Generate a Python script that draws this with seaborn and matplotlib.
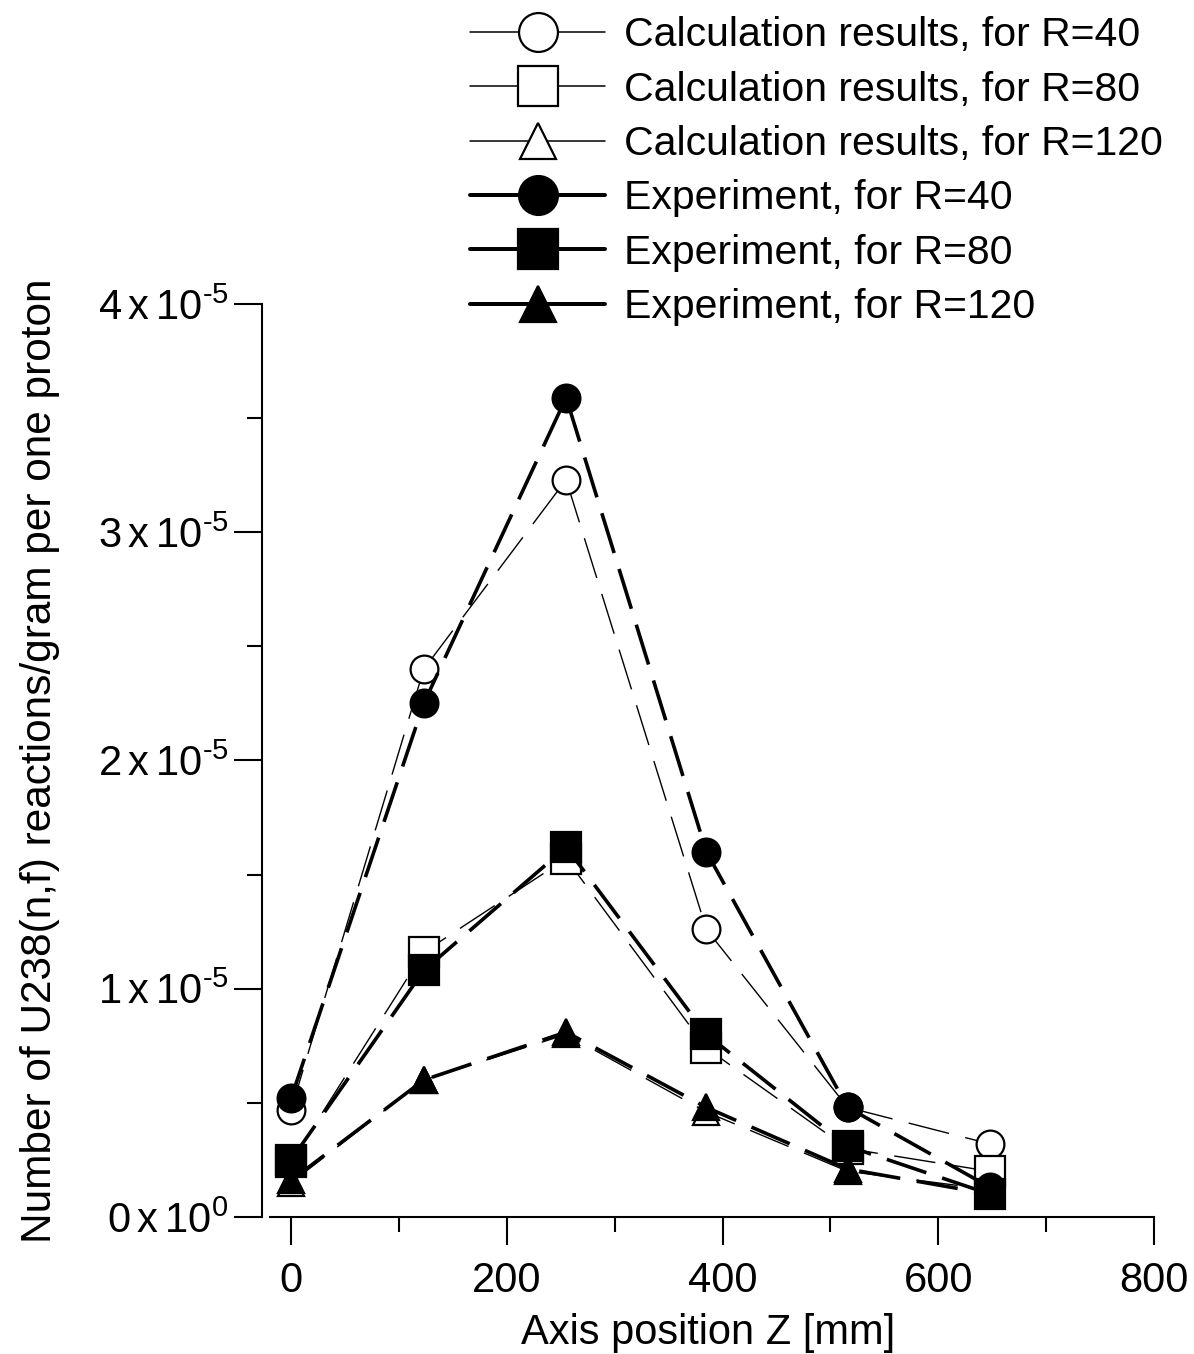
import matplotlib
matplotlib.use("Agg")
import matplotlib.pyplot as plt
from matplotlib.lines import Line2D
from matplotlib.ticker import FixedLocator, MultipleLocator
import seaborn as sns
import pandas as pd

# Axial positions along the target [mm]
z_mm = [0, 123, 255, 385, 516, 648]

# U238(n,f) reactions per gram per proton, in units of 1e-5
calc_r40 = [0.47, 2.40, 3.23, 1.26, 0.48, 0.32]
calc_r80 = [0.24, 1.16, 1.57, 0.74, 0.30, 0.20]
calc_r120 = [0.15, 0.60, 0.80, 0.46, 0.20, 0.12]
exp_r40 = [0.52, 2.25, 3.59, 1.60, 0.48, 0.13]
exp_r80 = [0.25, 1.08, 1.62, 0.80, 0.31, 0.10]
exp_r120 = [0.16, 0.60, 0.81, 0.48, 0.21, 0.10]

labels = [
    "Calculation results, for R=40",
    "Calculation results, for R=80",
    "Calculation results, for R=120",
    "Experiment, for R=40",
    "Experiment, for R=80",
    "Experiment, for R=120",
]
y_ticks = [0, 1, 2, 3, 4]

sns.set_theme(style="white")
plt.rcParams["font.family"] = ["Liberation Sans", "DejaVu Sans"]
plt.rcParams["mathtext.fontset"] = "custom"
plt.rcParams["mathtext.rm"] = "Liberation Sans"
plt.rcParams["mathtext.default"] = "regular"
plt.rcParams["lines.scale_dashes"] = False
plt.rcParams["text.color"] = "black"
plt.rcParams["axes.labelcolor"] = "black"
plt.rcParams["xtick.color"] = "black"
plt.rcParams["ytick.color"] = "black"

fig = plt.figure(figsize=(11.94, 13.54), dpi=100)
ax = fig.add_axes([0.2194, 0.1012, 0.9665 - 0.2194, 0.7755 - 0.1012])

series = [
    (calc_r40, "o", "white", 1.0),
    (calc_r80, "s", "white", 1.0),
    (calc_r120, "^", "white", 1.0),
    (exp_r40, "o", "black", 2.6),
    (exp_r80, "s", "black", 2.6),
    (exp_r120, "^", "black", 2.6),
]
msize = {"o": 20, "s": 21, "^": 19}

for vals, mk, face, lw in series:
    df = pd.DataFrame({"z": z_mm, "v": [v * 1e-5 for v in vals]})
    sns.lineplot(
        data=df, x="z", y="v", ax=ax, sort=False,
        color="black", linewidth=lw, linestyle=(0, (30, 12)),
        marker=mk, markersize=msize[mk], markerfacecolor=face,
        markeredgecolor="black", markeredgewidth=1.6, clip_on=False,
    )

ax.set_xlim(-27, 800)
ax.set_ylim(0, 4e-5)
ax.xaxis.set_major_locator(MultipleLocator(200))
ax.xaxis.set_minor_locator(MultipleLocator(100))
ax.yaxis.set_major_locator(FixedLocator([t * 1e-5 for t in y_ticks]))
ax.yaxis.set_minor_locator(MultipleLocator(0.5e-5))
ax.set_yticklabels(
    [f"${t}\\,x\\,10^{{\\text{{{'0' if t == 0 else '-5'}}}}}$" for t in y_ticks]
)

for s in ["top", "right"]:
    ax.spines[s].set_visible(False)
for s in ["left", "bottom"]:
    ax.spines[s].set_color("black")
    ax.spines[s].set_linewidth(1.5)
ax.spines["bottom"].set_bounds(-20, 800)

ax.tick_params(axis="both", which="both", bottom=True, left=True,
               direction="out", width=1.5, color="black", labelcolor="black")
ax.tick_params(axis="both", which="major", length=20)
ax.tick_params(axis="both", which="minor", length=11)
ax.tick_params(axis="x", which="major", labelsize=30, pad=12)
ax.tick_params(axis="y", which="major", labelsize=30, pad=4)

ax.set_xlabel("Axis position Z [mm]", fontsize=30, labelpad=8, color="black")
ax.set_ylabel("Number of U238(n,f) reactions/gram per one proton",
              fontsize=30.5, labelpad=27, color="black")
ax.grid(False)

handles = []
for (vals, mk, face, lw), lab in zip(series, labels):
    handles.append(Line2D([0], [0], color="black", linewidth=lw * 1.1,
                          marker=mk, markersize=msize[mk] * 1.4,
                          markerfacecolor=face, markeredgecolor="black",
                          markeredgewidth=1.6, label=lab))
fig.legend(handles=handles, loc="upper left", bbox_to_anchor=(0.3936, 0.988),
           frameon=False, fontsize=29.5, handlelength=3.3, handletextpad=0.45,
           labelspacing=0.40, borderpad=0, borderaxespad=0, labelcolor="black")

fig.savefig("out.png", dpi=100)
